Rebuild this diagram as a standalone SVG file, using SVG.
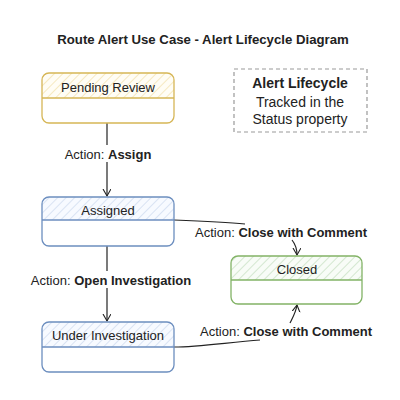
<svg xmlns="http://www.w3.org/2000/svg" width="400" height="400" viewBox="0 0 400 400">
<defs>
<pattern id="hy" width="6" height="6" patternUnits="userSpaceOnUse" patternTransform="rotate(45)"><rect width="6" height="6" fill="#fffdf5"/><line x1="0" y1="0" x2="0" y2="6" stroke="#f3e3b0" stroke-width="1.5"/></pattern>
<pattern id="hb" width="6" height="6" patternUnits="userSpaceOnUse" patternTransform="rotate(45)"><rect width="6" height="6" fill="#f7faff"/><line x1="0" y1="0" x2="0" y2="6" stroke="#cfdcef" stroke-width="1.5"/></pattern>
<pattern id="hg" width="6" height="6" patternUnits="userSpaceOnUse" patternTransform="rotate(45)"><rect width="6" height="6" fill="#f8fcf7"/><line x1="0" y1="0" x2="0" y2="6" stroke="#c8e0c4" stroke-width="1.5"/></pattern>
<marker id="arr" markerWidth="10" markerHeight="10" refX="7" refY="4" orient="auto" markerUnits="userSpaceOnUse"><path d="M0,0 L7,4 L0,8" fill="none" stroke="#222" stroke-width="1.1"/></marker>
</defs>
<style>
text{font-family:"Liberation Sans",Arial,sans-serif;fill:#222;}
.lbl{font-size:13px;text-anchor:middle;}
.t{font-size:13px;text-anchor:middle;}
.n{font-size:14px;text-anchor:middle;}
.b{font-weight:bold;}
.conn{fill:none;stroke:#222;stroke-width:1.2;}
</style>
<text x="203" y="44" class="t b" style="font-size:13.2px">Route Alert Use Case - Alert Lifecycle Diagram</text>

<g id="connectors">
<path class="conn" d="M107,123 L107,145"/>
<path class="conn" d="M107,162 L107,196" marker-end="url(#arr)"/>
<text x="108" y="159" class="lbl">Action: <tspan class="b">Assign</tspan></text>
<path class="conn" d="M107,246 L107,271"/>
<path class="conn" d="M107,288 L107,321" marker-end="url(#arr)"/>
<text x="111" y="285" class="lbl">Action: <tspan class="b">Open Investigation</tspan></text>
<path class="conn" d="M174,220 C200,221 225,222 245,224"/>
<path class="conn" d="M292,240 C296,245 297,250 297,255" marker-end="url(#arr)"/>
<text x="281" y="237" class="lbl">Action: <tspan class="b">Close with Comment</tspan></text>
<path class="conn" d="M174,347 C200,347 230,342 260,340"/>
<path class="conn" d="M290,323 C293,317 296,312 297,305" marker-end="url(#arr)"/>
<text x="286" y="336" class="lbl">Action: <tspan class="b">Close with Comment</tspan></text>
</g>

<g id="pending">
<rect x="42" y="73" width="132" height="50" rx="7" fill="#fff"/>
<path d="M42,98 L42,80 Q42,73 49,73 L167,73 Q174,73 174,80 L174,98 Z" fill="url(#hy)"/>
<rect x="42" y="73" width="132" height="50" rx="7" fill="none" stroke="#d6b656" stroke-width="1.3"/>
<line x1="42" y1="98" x2="174" y2="98" stroke="#d6b656" stroke-width="1.3"/>
<text x="108" y="92" class="t">Pending Review</text>
</g>

<g id="assigned">
<rect x="42" y="197" width="132" height="49" rx="7" fill="#fff"/>
<path d="M42,220 L42,204 Q42,197 49,197 L167,197 Q174,197 174,204 L174,220 Z" fill="url(#hb)"/>
<rect x="42" y="197" width="132" height="49" rx="7" fill="none" stroke="#6c8ebf" stroke-width="1.3"/>
<line x1="42" y1="220" x2="174" y2="220" stroke="#6c8ebf" stroke-width="1.3"/>
<text x="108" y="215" class="t">Assigned</text>
</g>

<g id="investigation">
<rect x="42" y="322" width="132" height="50" rx="7" fill="#fff"/>
<path d="M42,347 L42,329 Q42,322 49,322 L167,322 Q174,322 174,329 L174,347 Z" fill="url(#hb)"/>
<rect x="42" y="322" width="132" height="50" rx="7" fill="none" stroke="#6c8ebf" stroke-width="1.3"/>
<line x1="42" y1="347" x2="174" y2="347" stroke="#6c8ebf" stroke-width="1.3"/>
<text x="108" y="340" class="t">Under Investigation</text>
</g>

<g id="closed">
<rect x="231" y="256" width="131" height="48" rx="7" fill="#fff"/>
<path d="M231,280 L231,263 Q231,256 238,256 L355,256 Q362,256 362,263 L362,280 Z" fill="url(#hg)"/>
<rect x="231" y="256" width="131" height="48" rx="7" fill="none" stroke="#82b366" stroke-width="1.3"/>
<line x1="231" y1="280" x2="362" y2="280" stroke="#82b366" stroke-width="1.3"/>
<text x="297" y="274" class="t">Closed</text>
</g>

<g id="note">
<rect x="234" y="69" width="133" height="63" fill="none" stroke="#999" stroke-width="1.2" stroke-dasharray="4 3"/>
<text x="300" y="88" class="n b">Alert Lifecycle</text>
<text x="300" y="107" class="n">Tracked in the</text>
<text x="300" y="124" class="n">Status property</text>
</g>
</svg>
